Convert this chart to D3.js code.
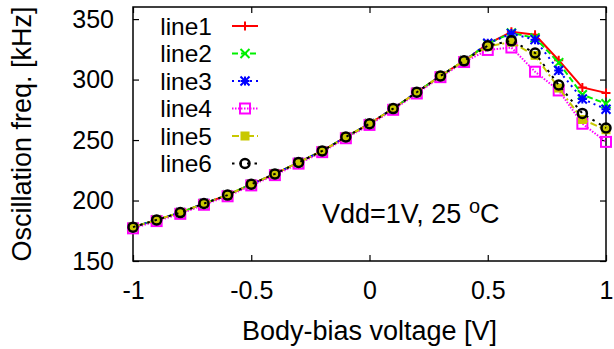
<!DOCTYPE html>
<html>
<head>
<meta charset="utf-8">
<script src="https://cdn.jsdelivr.net/npm/d3@7"></script>
<style>
  body { margin: 0; background: #fff; }
  svg text { font-family: "Liberation Sans", Arial, Helvetica, sans-serif; fill: #000; }
</style>
</head>
<body>
<div id="chart"></div>
<script>
// body-bias voltage [V]
const biasV = [-1, -0.9, -0.8, -0.7, -0.6, -0.5, -0.4, -0.3, -0.2, -0.1, 0, 0.1, 0.2, 0.3, 0.4, 0.5, 0.6, 0.7, 0.8, 0.9, 1];

// oscillation freq. [kHz], one array per curve
const line1 = [178, 184, 190, 197.5, 204.5, 213.5, 222, 231.5, 241, 252.5, 263.5, 276, 289.5, 303, 315.5, 329.5, 339.5, 337, 316, 293.5, 289];
const line2 = [178, 184, 190, 197.5, 204.5, 213.5, 222, 231.5, 241, 252.5, 263.5, 276, 289.5, 303, 315.5, 329.5, 338.5, 334.5, 314, 287.5, 280];
const line3 = [178, 184, 190, 197.5, 204.5, 213.5, 222, 231.5, 241, 252.5, 263.5, 276, 289.5, 303, 315.5, 330, 338, 333, 307.5, 284, 275.5];
const line4 = [177, 183, 189, 196.5, 203.5, 212.5, 221, 230.5, 240, 251.5, 262.5, 275, 288.5, 302, 314.5, 324.5, 326.5, 306.5, 291, 263.5, 248.5];
const line5 = [178, 184, 190, 197.5, 204.5, 213.5, 222, 231.5, 241, 252.5, 263.5, 276, 289.5, 303, 315.5, 327.5, 331, 320, 293, 267, 258.5];
const line6 = [178, 184, 190, 197.5, 204.5, 213.5, 222, 231.5, 241, 252.5, 263.5, 276, 289.5, 303, 315.5, 328, 332, 322, 295.5, 272, 260];

const xTicks = [-1, -0.5, 0, 0.5, 1];
const xTickLabels = ["-1", "-0.5", "0", "0.5", "1"];
const yTicks = [150, 200, 250, 300, 350];
const names = ["line1", "line2", "line3", "line4", "line5", "line6"];

const W = 614, H = 349;
const margin = { top: 7, right: 8, bottom: 88, left: 133 };
const tickFs = 25, legFs = 24.5, titleFs = 27;

const svg = d3.select("#chart").append("svg")
  .attr("width", W)
  .attr("height", H);

const x = d3.scaleLinear().domain([-1, 1]).range([margin.left, W - margin.right]);
const y = d3.scaleLinear().domain([150, 360]).range([H - margin.bottom, margin.top]);

// line look per series: colour, dash, marker type
const styles = [
  { color: "#ff0000", dash: null, marker: "plus" },
  { color: "#00f000", dash: "6,3", marker: "cross" },
  { color: "#0000ff", dash: "2,4", marker: "star" },
  { color: "#ff00ff", dash: "1.5,1.5", marker: "box" },
  { color: "#c8c800", dash: "7,3,2,3", marker: "fbox" },
  { color: "#000000", dash: "2.5,5", marker: "circle" }
];
const series = [line1, line2, line3, line4, line5, line6];

// axes: inward ticks, mirrored on top and right
svg.append("g")
  .attr("transform", `translate(0,${H - margin.bottom})`)
  .call(d3.axisBottom(x).tickValues(xTicks).tickSize(-6).tickPadding(20)
    .tickFormat((d, i) => xTickLabels[i]))
  .call(g => g.select(".domain").remove())
  .selectAll("text").style("font-size", tickFs + "px");

svg.append("g")
  .attr("transform", `translate(0,${margin.top})`)
  .call(d3.axisTop(x).tickValues(xTicks).tickSize(-6).tickFormat(""))
  .call(g => g.select(".domain").remove());

svg.append("g")
  .attr("transform", `translate(${margin.left},0)`)
  .call(d3.axisLeft(y).tickValues(yTicks).tickSize(-6).tickPadding(19))
  .call(g => g.select(".domain").remove())
  .selectAll("text").style("font-size", tickFs + "px");

svg.append("g")
  .attr("transform", `translate(${W - margin.right},0)`)
  .call(d3.axisRight(y).tickValues(yTicks).tickSize(-6).tickFormat(""))
  .call(g => g.select(".domain").remove());

svg.selectAll(".tick line").attr("stroke", "#000").attr("stroke-width", 1.2);

svg.append("rect")
  .attr("x", margin.left)
  .attr("y", margin.top)
  .attr("width", W - margin.right - margin.left)
  .attr("height", H - margin.bottom - margin.top)
  .attr("fill", "none")
  .attr("stroke", "#000")
  .attr("stroke-width", 1.5);

// axis titles
svg.append("text")
  .attr("x", (margin.left + W - margin.right) / 2)
  .attr("y", 340)
  .attr("text-anchor", "middle")
  .style("font-size", titleFs + "px")
  .text("Body-bias voltage [V]");

svg.append("text")
  .attr("transform", `translate(31,${(margin.top + H - margin.bottom) / 2}) rotate(-90)`)
  .attr("text-anchor", "middle")
  .style("font-size", titleFs + "px")
  .text("Oscillation freq. [kHz]");

const note = svg.append("text")
  .attr("x", 322)
  .attr("y", 223)
  .style("font-size", titleFs + "px");
note.append("tspan").text("Vdd=1V, 25 ");
note.append("tspan").attr("dy", -10).style("font-size", "20px").text("o");
note.append("tspan").attr("dy", 10).text("C");

function drawMarker(g, type, color, cx, cy) {
  const s = 4.5;
  if (type === "plus") {
    g.append("path").attr("d", `M${cx - s},${cy}H${cx + s}M${cx},${cy - s}V${cy + s}`)
      .attr("stroke", color).attr("stroke-width", 2);
  } else if (type === "cross") {
    g.append("path").attr("d", `M${cx - s},${cy - s}L${cx + s},${cy + s}M${cx - s},${cy + s}L${cx + s},${cy - s}`)
      .attr("stroke", color).attr("stroke-width", 2);
  } else if (type === "star") {
    g.append("path").attr("d", `M${cx - s},${cy - s}L${cx + s},${cy + s}M${cx - s},${cy + s}L${cx + s},${cy - s}M${cx - s},${cy}H${cx + s}M${cx},${cy - s}V${cy + s}`)
      .attr("stroke", color).attr("stroke-width", 2);
  } else if (type === "box") {
    g.append("rect").attr("x", cx - 5).attr("y", cy - 5).attr("width", 10).attr("height", 10)
      .attr("fill", "none").attr("stroke", color).attr("stroke-width", 2);
  } else if (type === "fbox") {
    g.append("rect").attr("x", cx - 4.5).attr("y", cy - 4.5).attr("width", 9).attr("height", 9)
      .attr("fill", color);
  } else if (type === "circle") {
    g.append("circle").attr("cx", cx).attr("cy", cy).attr("r", 4.5)
      .attr("fill", "none").attr("stroke", color).attr("stroke-width", 2.5);
  }
}

const lineGen = d3.line().x((d, i) => x(biasV[i])).y(d => y(d));

series.forEach((vals, k) => {
  const st = styles[k];
  const g = svg.append("g");
  g.append("path")
    .datum(vals)
    .attr("d", lineGen)
    .attr("fill", "none")
    .attr("stroke", st.color)
    .attr("stroke-width", 2)
    .attr("stroke-dasharray", st.dash);
  vals.forEach((v, i) => drawMarker(g, st.marker, st.color, x(biasV[i]), y(v)));
});

// legend
const legY = d3.scalePoint().domain(names).range([26, 163.5]);
names.forEach((n, k) => {
  const st = styles[k];
  const cy = legY(n);
  const g = svg.append("g");
  g.append("text")
    .attr("x", 212)
    .attr("y", cy)
    .attr("dy", "0.36em")
    .attr("text-anchor", "end")
    .style("font-size", legFs + "px")
    .text(n);
  g.append("line")
    .attr("x1", 232).attr("x2", 258)
    .attr("y1", cy).attr("y2", cy)
    .attr("stroke", st.color)
    .attr("stroke-width", 2)
    .attr("stroke-dasharray", st.dash);
  drawMarker(g, st.marker, st.color, 245, cy);
});
</script>
</body>
</html>
